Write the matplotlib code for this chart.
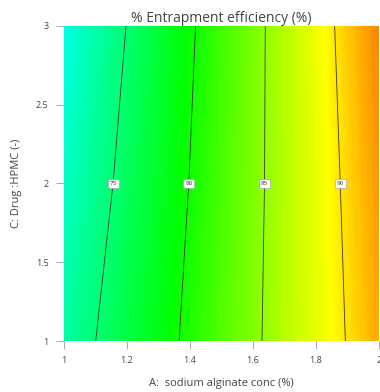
import numpy as np
import matplotlib
matplotlib.use("Agg")
import matplotlib.pyplot as plt
from matplotlib.colors import LinearSegmentedColormap

# factor levels (A: sodium alginate conc, C: Drug:HPMC)
a_levels = [1.0, 1.25, 1.5, 1.75, 2.0]
c_levels = [1.0, 2.0, 3.0]
# estimated entrapment efficiency (%)
eff_c1 = [73.1, 77.8, 82.55, 87.3, 92.0]
eff_c2 = [71.75, 76.95, 82.15, 87.35, 92.55]
eff_c3 = [70.5, 76.2, 81.85, 87.5, 93.2]
contour_levels = [75, 80, 85, 90]
x_ticks = [1, 1.2, 1.4, 1.6, 1.8, 2]
y_ticks = [1, 1.5, 2, 2.5, 3]

plt.rcParams['font.family'] = ['Open Sans', 'DejaVu Sans']
txt = '#444444'

A, C = np.meshgrid(a_levels, c_levels)
Z = np.array([eff_c1, eff_c2, eff_c3])

# blue -> cyan -> green -> yellow -> red, stops matched to the picture
vmin, vmax = 59.5, 97.5
stops = [59.5, 69.5, 79.5, 89.3, 97.5]
cols = ['#0000ff', '#00ffff', '#00ff00', '#ffff00', '#ff0000']
cmap = LinearSegmentedColormap.from_list(
    'de', [((s - vmin) / (vmax - vmin), c) for s, c in zip(stops, cols)])

fig = plt.figure(figsize=(3.8, 3.92), dpi=100)
ax = fig.add_axes([0.168, 0.130, 0.829, 0.804])

ax.contourf(A, C, Z, levels=np.linspace(vmin, vmax, 301), cmap=cmap,
            vmin=vmin, vmax=vmax, antialiased=False)
cs = ax.contour(A, C, Z, levels=contour_levels, colors='#3a3a3a', linewidths=0.6)
lbls = ax.clabel(cs, fmt='%d', fontsize=4.5, inline=False,
                 manual=[(1.156, 2), (1.40, 2), (1.63, 2), (1.87, 2)])
for t in lbls:
    t.set_rotation(0)
    t.set_color('#333333')
    t.set_bbox(dict(boxstyle='square,pad=0.3', fc='white', ec='#999999', lw=0.4))

ax.set_xlim(1, 2)
ax.set_ylim(1, 3)
ax.set_xticks(x_ticks)
ax.set_xticklabels(['1', '1.2', '1.4', '1.6', '1.8', '2'])
ax.set_yticks(y_ticks)
ax.set_yticklabels(['1', '1.5', '2', '2.5', '3'])
for s in ax.spines.values():
    s.set_visible(False)
ax.tick_params(axis='both', direction='out', length=6, width=0.5, color='#888888',
               labelsize=6.5, labelcolor=txt, pad=5)

ax.set_title('% Entrapment efficiency (%)', fontsize=10, color=txt, pad=3)
ax.set_xlabel('A:  sodium alginate conc (%)', fontsize=8, color=txt, labelpad=9)
ax.set_ylabel('C: Drug :HPMC (-)', fontsize=8, color=txt, labelpad=10)

fig.savefig('out.png', dpi=100)
